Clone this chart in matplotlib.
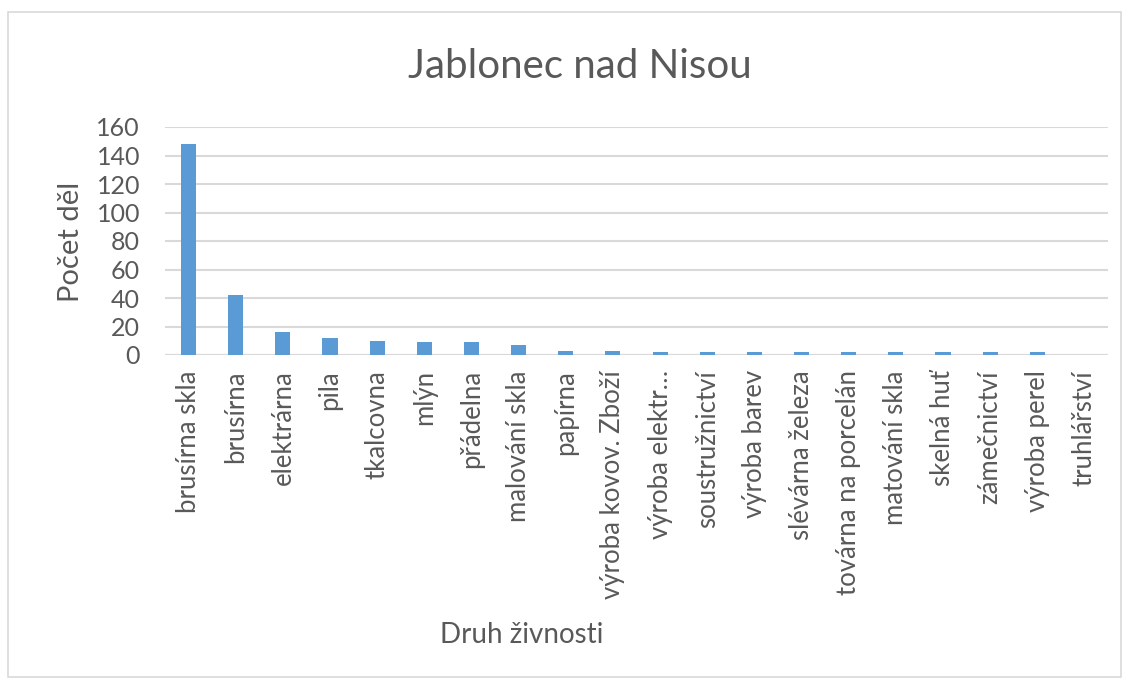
import matplotlib
matplotlib.use('Agg')
import matplotlib.pyplot as plt
from matplotlib.patches import Rectangle

categories = ['brusírna skla', 'brusírna', 'elektrárna', 'pila', 'tkalcovna', 'mlýn',
              'přádelna', 'malování skla', 'papírna', 'výroba kovov. Zboží',
              'výroba elektr…', 'soustružnictví', 'výroba barev', 'slévárna železa',
              'továrna na porcelán', 'matování skla', 'skelná huť', 'zámečnictví',
              'výroba perel', 'truhlářství']
values = [148, 42, 16, 12, 10, 9, 9, 7, 3, 3, 2, 2, 2, 2, 2, 2, 2, 2, 2, 0]
yticks = [0, 20, 40, 60, 80, 100, 120, 140, 160]

plt.rcParams['font.family'] = ['Lato', 'DejaVu Sans']
text_col = '#595959'

fig = plt.figure(figsize=(11.3, 6.84), dpi=100)
fig.patches.append(Rectangle((8 / 1130, 7 / 684), 1113 / 1130, 665 / 684,
                             transform=fig.transFigure, fill=False,
                             edgecolor='#D9D9D9', linewidth=1.2))

ax = fig.add_axes([165 / 1130, 1 - 355 / 684, 943 / 1130, 228 / 684])
x = range(len(categories))
ax.bar(x, values, width=0.32, color='#5B9BD5', zorder=3)

ax.set_xlim(-0.5, len(categories) - 0.5)
ax.set_ylim(0, 160)
ax.set_yticks(yticks)
ax.yaxis.grid(True, color='#D9D9D9', linewidth=1.5, zorder=0)
ax.set_axisbelow(True)
for s in ax.spines.values():
    s.set_visible(False)
ax.axhline(0, color='#D9D9D9', linewidth=1.5, zorder=1)

ax.set_xticks(list(x))
ax.set_xticklabels(categories, rotation=90, fontsize=18.5, color=text_col)
ax.tick_params(axis='x', length=0, pad=11)
ax.tick_params(axis='y', length=0, pad=18, labelsize=18, labelcolor=text_col)

fig.text(0.513, 1 - 66 / 684, 'Jablonec nad Nisou', ha='center', va='center',
         fontsize=29, color=text_col)
fig.text(0.462, 1 - 635 / 684, 'Druh živnosti', ha='center', va='center',
         fontsize=20, color=text_col)
fig.text(71 / 1130, 1 - 242 / 684, 'Počet děl', ha='center', va='center',
         rotation=90, fontsize=21, color=text_col)

fig.savefig('out.png', dpi=100)
